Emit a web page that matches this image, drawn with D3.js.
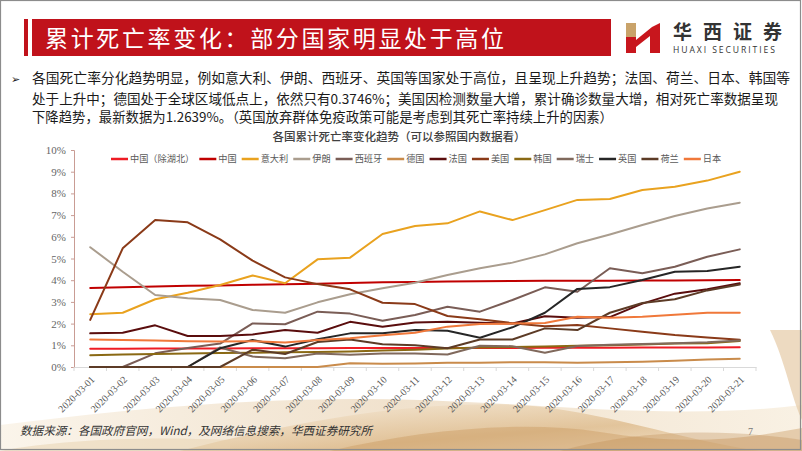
<!DOCTYPE html>
<html><head><meta charset="utf-8">
<script src="https://cdn.jsdelivr.net/npm/d3@7/dist/d3.min.js"></script>
<style>body{margin:0;background:#fff;} svg{display:block}</style>
</head><body><svg id="c" width="802" height="451"></svg>
<script>
// ---------------- DATA ----------------
const dates = ["2020-03-01","2020-03-02","2020-03-03","2020-03-04","2020-03-05","2020-03-06","2020-03-07",
  "2020-03-08","2020-03-09","2020-03-10","2020-03-11","2020-03-12","2020-03-13","2020-03-14",
  "2020-03-15","2020-03-16","2020-03-17","2020-03-18","2020-03-19","2020-03-20","2020-03-21"];
const yTicks = [0,1,2,3,4,5,6,7,8,9,10];
const seriesNames = ["中国（除湖北）","中国","意大利","伊朗","西班牙","德国","法国","美国","韩国","瑞士","英国","荷兰","日本"];
const seriesColors = ["#ee1c24","#c00000","#e9a21f","#aa9d8e","#7a5d56","#c98b4b","#5a0d0d","#8a3a18","#8a6914","#80695c","#262626","#5c3b26","#f0783a"];
const chinaExHubei = [0.84,0.84,0.85,0.85,0.85,0.86,0.86,0.86,0.87,0.87,0.87,0.88,0.88,0.88,0.89,0.89,0.89,0.90,0.90,0.90,0.91];
const china        = [3.64,3.67,3.71,3.74,3.76,3.79,3.81,3.84,3.87,3.90,3.92,3.94,3.95,3.96,3.97,3.98,3.98,3.99,3.99,4.00,4.01];
const italy        = [2.43,2.50,3.12,3.42,3.78,4.22,3.86,4.96,5.04,6.13,6.50,6.62,7.17,6.77,7.23,7.70,7.74,8.16,8.31,8.59,9.00];
const iran         = [5.52,4.39,3.32,3.17,3.09,2.63,2.50,2.98,3.35,3.63,3.88,4.24,4.55,4.81,5.19,5.70,6.11,6.54,6.96,7.30,7.57];
const spain        = [0,0,0.63,0.88,1.08,2.01,1.97,2.55,2.46,2.13,2.40,2.78,2.55,3.09,3.67,3.47,4.55,4.32,4.62,5.08,5.42];
const germany      = [0,0,0,0,0,0,0,0,0.17,0.15,0.16,0.20,0.20,0.22,0.22,0.20,0.22,0.24,0.29,0.34,0.38];
const france       = [1.55,1.58,1.92,1.43,1.43,1.50,1.70,1.58,2.08,1.86,2.05,2.09,2.04,2.00,2.34,2.27,2.30,2.92,3.38,3.58,3.86];
const usa          = [2.17,5.47,6.77,6.67,5.88,4.90,4.13,3.82,3.58,2.96,2.90,2.35,2.20,2.02,1.88,1.94,1.78,1.62,1.47,1.36,1.26];
const korea        = [0.54,0.58,0.60,0.62,0.64,0.66,0.68,0.69,0.72,0.76,0.80,0.85,0.90,0.92,0.95,0.98,1.00,1.04,1.08,1.10,1.20];
const swiss        = [0,0,0,0,0.90,0.48,0.40,0.62,0.56,0.62,0.62,0.58,0.98,0.96,0.66,0.97,1.02,1.06,1.10,1.14,1.22];
const uk           = [0,0,0,0,0.86,1.24,0.94,1.28,1.55,1.55,1.70,1.67,1.35,1.83,2.50,3.60,3.68,4.01,4.39,4.42,4.62];
const netherlands  = [0,0,0,0,0,0.80,0.60,1.15,1.27,1.05,1.00,0.86,1.27,1.27,1.78,1.70,2.50,2.95,3.12,3.53,3.80];
const japan        = [1.27,1.24,1.22,1.19,1.17,1.19,1.13,1.24,1.33,1.46,1.58,1.86,1.98,2.00,2.03,2.32,2.27,2.32,2.41,2.50,2.50];
const seriesValues = [chinaExHubei,china,italy,iran,spain,germany,france,usa,korea,swiss,uk,netherlands,japan];

const pageTitle = "累计死亡率变化：部分国家明显处于高位";
const bulletLines = [
 "各国死亡率分化趋势明显，例如意大利、伊朗、西班牙、英国等国家处于高位，且呈现上升趋势；法国、荷兰、日本、韩国等",
 "处于上升中；德国处于全球区域低点上，依然只有0.3746%；美国因检测数量大增，累计确诊数量大增，相对死亡率数据呈现",
 "下降趋势，最新数据为1.2639%。（英国放弃群体免疫政策可能是考虑到其死亡率持续上升的因素）"];
const chartTitle = "各国累计死亡率变化趋势（可以参照国内数据看）";
const sourceText = "数据来源：各国政府官网，Wind，及网络信息搜索，华西证券研究所";

// ---------------- DRAW ----------------
const svg = d3.select("#c");
const CJK = "'Noto Sans CJK SC','Noto Sans',sans-serif";
const SERIF = "'Liberation Serif','DejaVu Serif',serif";
const defs = svg.append("defs");

// background decoration (bottom golden ribbons)
const g1 = defs.append("linearGradient").attr("id","gold").attr("x1","0").attr("x2","1").attr("y1","0").attr("y2","0");
g1.append("stop").attr("offset","0").attr("stop-color","#f6ead6");
g1.append("stop").attr("offset","0.5").attr("stop-color","#e2c49a");
g1.append("stop").attr("offset","1").attr("stop-color","#f3e3c8");
const g2 = defs.append("linearGradient").attr("id","gold2").attr("x1","0").attr("x2","1").attr("y1","0").attr("y2","1");
g2.append("stop").attr("offset","0").attr("stop-color","#fbf4e8");
g2.append("stop").attr("offset","0.6").attr("stop-color","#d8b07a");
g2.append("stop").attr("offset","1").attr("stop-color","#f0dcc0");
const deco = svg.append("g");
deco.append("path").attr("d","M0,451 L0,425 C120,410 260,395 420,400 C560,405 680,420 802,405 L802,451 Z").attr("fill","url(#gold)").attr("opacity",0.5);
deco.append("path").attr("d","M180,451 C300,420 420,400 520,405 C600,410 680,440 760,451 Z").attr("fill","url(#gold2)").attr("opacity",0.65);
deco.append("path").attr("d","M330,451 C420,430 520,420 600,432 C680,445 740,440 802,428 L802,451 Z").attr("fill","#c9955a").attr("opacity",0.4);
deco.append("path").attr("d","M560,451 C620,435 700,425 802,440 L802,451 Z").attr("fill","#b98448").attr("opacity",0.3);
deco.append("path").attr("d","M770,330 C785,360 792,400 802,420 L802,330 Z").attr("fill","#e5cba6").attr("opacity",0.7);
deco.append("path").attr("d","M0,451 C60,440 140,436 230,440 L230,451 Z").attr("fill","#e8d2ae").attr("opacity",0.5);

// frame
svg.append("rect").attr("x",0.5).attr("y",0.5).attr("width",800).attr("height",449).attr("fill","none").attr("stroke","#8c8c8c").attr("stroke-width",1.2);

// header banner
svg.append("rect").attr("x",24).attr("y",19).attr("width",4).attr("height",37).attr("fill","#c0121b");
svg.append("rect").attr("x",32).attr("y",19).attr("width",579).attr("height",37).attr("fill","#c0121b");
svg.append("text").attr("x",45).attr("y",46.5).attr("fill","#fff").attr("font-family",CJK).attr("font-size",23)
  .attr("textLength",459).attr("lengthAdjust","spacing").text(pageTitle);

// logo
const logo = svg.append("g");
logo.append("rect").attr("x",626).attr("y",23).attr("width",10).attr("height",14).attr("fill","#c9a36a");
logo.append("rect").attr("x",626).attr("y",37).attr("width",10).attr("height",16).attr("fill","#c8161d");
logo.append("path").attr("d","M636,40 L652,27 L660,23 L660,53 L650,53 L650,36 L636,47 Z").attr("fill","#c8161d");
logo.append("text").attr("x",673).attr("y",39).attr("font-family",CJK).attr("font-weight",700).attr("font-size",19)
  .attr("fill","#333").attr("textLength",109).attr("lengthAdjust","spacing").text("华西证券");
logo.append("text").attr("x",673).attr("y",52.5).attr("font-family","'Open Sans','DejaVu Sans',sans-serif").attr("font-size",8.6)
  .attr("fill","#333").attr("textLength",102).attr("lengthAdjust","spacing").text("HUAXI SECURITIES");

// bullet paragraph
svg.append("text").attr("x",11).attr("y",83).attr("font-family","'DejaVu Sans',sans-serif").attr("font-size",11).attr("fill","#222").text("➢");
const bl = [[32,83,758],[32,104,746],[32,122,581]];
bulletLines.forEach((t,i)=>{
  svg.append("text").attr("x",bl[i][0]).attr("y",bl[i][1]).attr("font-family",CJK).attr("font-size",13.3)
    .attr("fill","#1a1a1a").attr("textLength",bl[i][2]).attr("lengthAdjust","spacingAndGlyphs").text(t);
});

// chart title
svg.append("text").attr("x",399).attr("y",141).attr("text-anchor","middle").attr("font-family",CJK).attr("font-size",11.5)
  .attr("font-weight",500).attr("fill","#404040").text(chartTitle);

// scales
const x = d3.scaleBand().domain(dates).range([74,756]);
const y = d3.scaleLinear().domain([0,10]).range([367,150]);
const cx = d => x(d) + x.bandwidth()/2;

// y axis
const ya = svg.append("g").attr("transform","translate(74,0)")
  .call(d3.axisLeft(y).tickValues(yTicks).tickFormat(d=>d+"%").tickSize(3).tickPadding(5));
ya.select(".domain").attr("stroke","#c99c94");
ya.selectAll(".tick line").attr("stroke","#c99c94");
ya.selectAll("text").attr("font-family",SERIF).attr("font-size",11).attr("fill","#666");

// x axis
const xa = svg.append("g").attr("transform","translate(0,367)")
  .call(d3.axisBottom(x).tickSize(0).tickPadding(0));
xa.select(".domain").attr("stroke","#d9d9d9");
xa.selectAll(".tick text").attr("font-family",SERIF).attr("font-size",10).attr("fill","#595959")
  .attr("text-anchor","end").attr("dy","0.3em").attr("y",0)
  .attr("transform","translate(3,11) rotate(-45)");
const bounds = dates.map(d=>x(d)).concat([x(dates[dates.length-1])+x.bandwidth()]);
xa.selectAll("line.bt").data(bounds).enter().append("line").attr("class","bt")
  .attr("x1",d=>d).attr("x2",d=>d).attr("y1",0).attr("y2",4).attr("stroke","#d9d9d9");

// lines
const line = d3.line().x((v,i)=>cx(dates[i])).y(v=>y(v));
const lg = svg.append("g");
seriesValues.forEach((vals,i)=>{
  lg.append("path").attr("d",line(vals)).attr("fill","none").attr("stroke",seriesColors[i])
    .attr("stroke-width",2).attr("stroke-linejoin","round").attr("stroke-linecap","round");
});

// legend
const leg = svg.append("g").attr("transform","translate(0,159)");
let lx = 111;
seriesNames.forEach((n,i)=>{
  leg.append("line").attr("x1",lx).attr("x2",lx+17).attr("y1",0).attr("y2",0).attr("stroke",seriesColors[i]).attr("stroke-width",2.5);
  const t = leg.append("text").attr("x",lx+19).attr("y",3.3).attr("font-family",CJK).attr("font-size",9.2)
    .attr("fill","#595959").text(n);
  lx += 19 + t.node().getComputedTextLength() + 5;
});

// footer
svg.append("text").attr("x",20).attr("y",435).attr("font-family",CJK).attr("font-style","italic").attr("font-size",11.5)
  .attr("fill","#333").attr("textLength",352).attr("lengthAdjust","spacingAndGlyphs").text(sourceText);
svg.append("text").attr("x",748).attr("y",435).attr("font-family",SERIF).attr("font-size",10).attr("fill","#777").text("7");
</script></body></html>
